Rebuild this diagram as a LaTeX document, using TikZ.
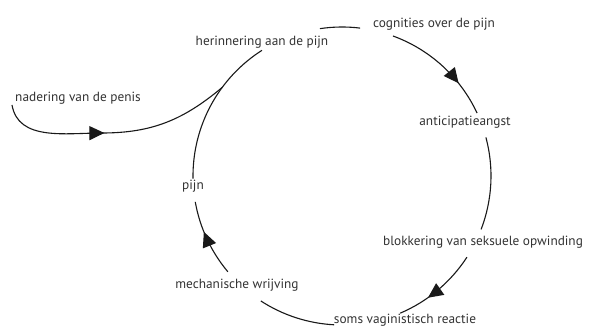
\documentclass[tikz,border=0pt]{standalone}
\usepackage{fontspec}
\setmainfont{PT Sans}
\usetikzlibrary{arrows.meta,decorations.markings,calc}
\begin{document}
\begin{tikzpicture}[x=1pt,y=1pt,
  lbl/.style={font=\fontsize{13.3}{15}\selectfont, text=black!80, inner sep=1pt},
  conn/.style={line width=1.1pt, black!90},
  midarrow/.style={postaction={decorate}, decoration={markings,
     mark=at position #1 with {\arrow{Triangle[length=15pt,width=14pt]}}}}]
\useasboundingbox (0,0) rectangle (592,327);
\clip (0,0) rectangle (592,327);
\fill[white] (0,0) rectangle (592,327);
\def\R{149}
\coordinate (c) at (342,151);
% labels
\node[lbl] (nad) at (78,229) {nadering van de penis};
\node[lbl] (her) at (262,285) {herinnering aan de pijn};
\node[lbl] (cog) at (434,303) {cognities over de pijn};
\node[lbl] (ant) at (465,205) {anticipatieangst};
\node[lbl] (blo) at (483,85) {blokkering van seksuele opwinding};
\node[lbl] (soms) at (405,7) {soms vaginistisch reactie};
\node[lbl] (mech) at (237,42) {mechanische wrijving};
\node[lbl] (pijn) at (193,141) {pijn};
% circle points
\coordinate (a1) at ($(c)+(98.5:\R)$);
\coordinate (a2) at ($(c)+(70:\R)$);
\coordinate (a3) at ($(c)+(15:\R)$);
\coordinate (a4) at ($(c)+(-33:\R)$);
\coordinate (a5) at ($(c)+(-93:\R)$);
\coordinate (a6) at ($(c)+(-140:\R)$);
\coordinate (a7) at ($(c)+(181:\R)$);
\coordinate (j) at ($(c)+(143.5:\R)$);
\coordinate (ns) at (12,222);
\coordinate (m) at (102,194);
% cycle arcs
\draw[conn] (a1) arc[start angle=98.5, end angle=83, radius=\R];
\draw[conn, midarrow=0.7] (a2) arc[start angle=70, end angle=25, radius=\R];
\draw[conn] (a3) arc[start angle=15, end angle=-21, radius=\R];
\draw[conn, midarrow=0.64] (a4) arc[start angle=-33, end angle=-67, radius=\R];
\draw[conn] (a5) arc[start angle=-93, end angle=-123, radius=\R];
\draw[conn, midarrow=0.6] (a6) arc[start angle=-140, end angle=-170, radius=\R];
\draw[conn] (a7) arc[start angle=181, end angle=122.5, radius=\R];
% input
\draw[conn, midarrow=0.45] (ns) to[out=-80,in=180] (m) to[out=0,in=220] (j);
\end{tikzpicture}
\end{document}
